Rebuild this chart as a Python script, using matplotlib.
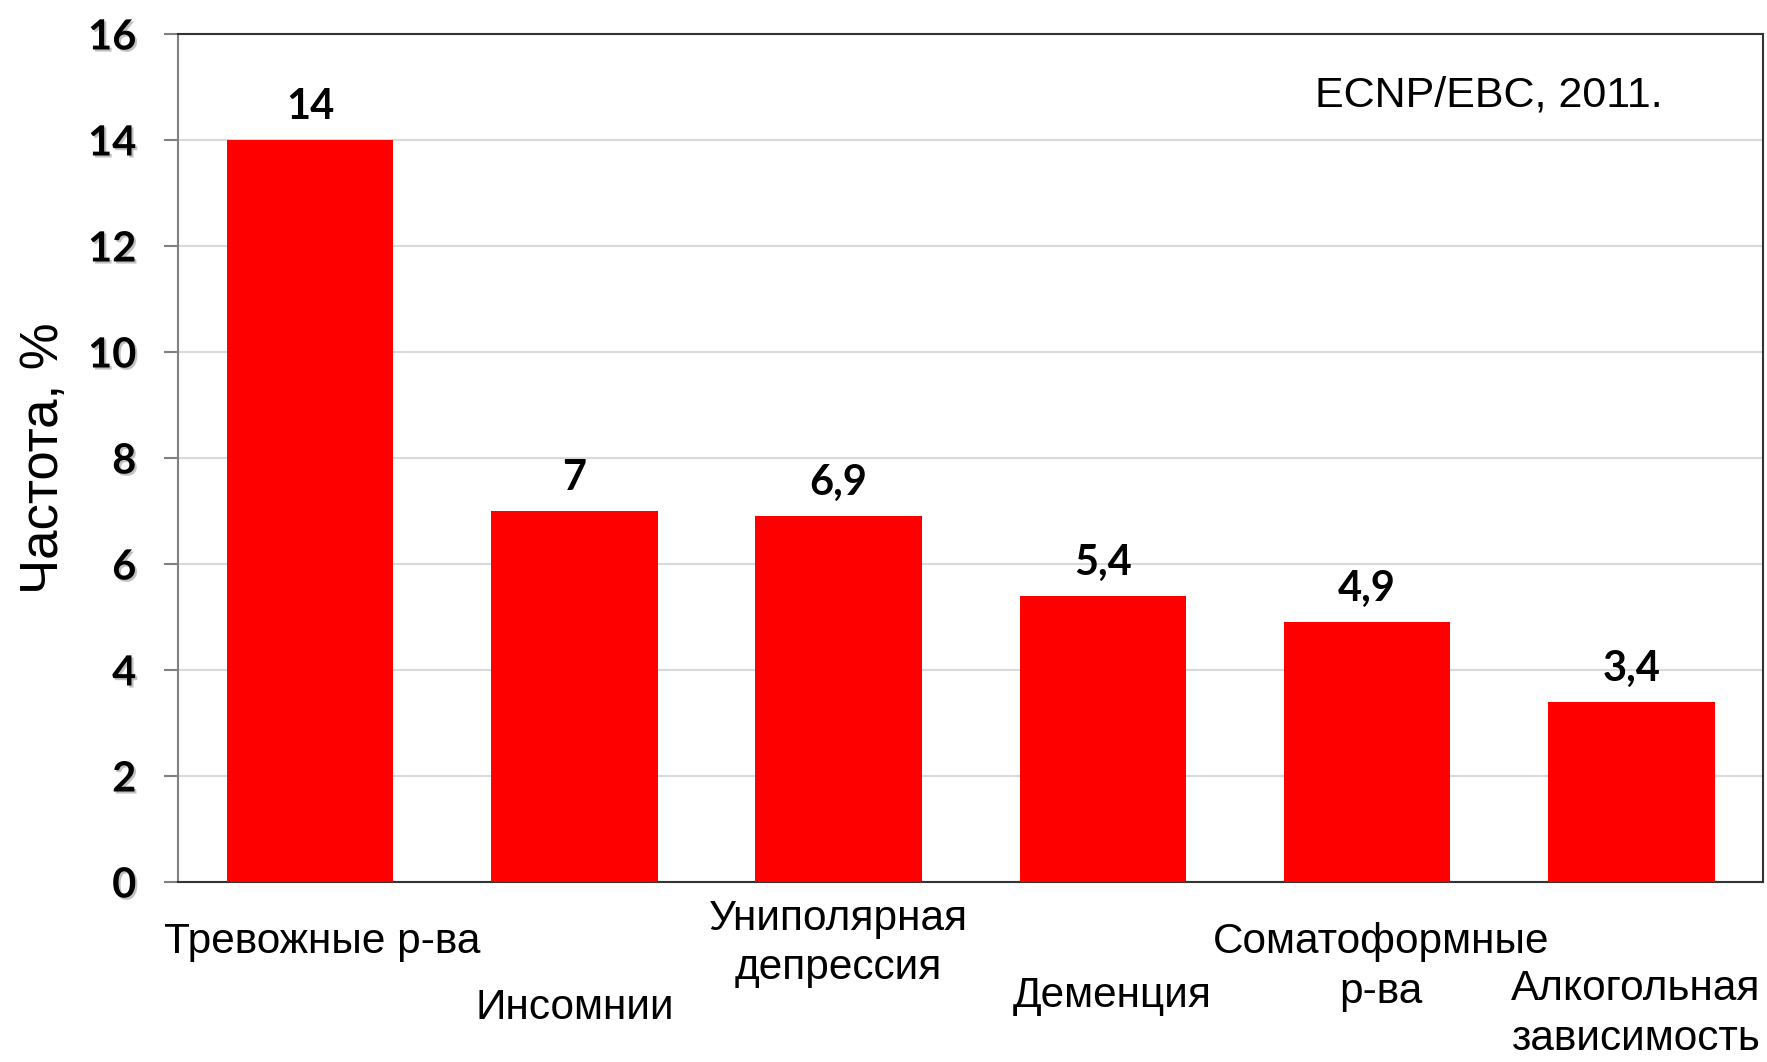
import matplotlib
matplotlib.use("Agg")
import matplotlib.pyplot as plt
import matplotlib.patheffects as pe

categories = ["Тревожные р-ва", "Инсомнии", "Униполярная\nдепрессия",
              "Деменция", "Соматоформные\nр-ва", "Алкогольная\nзависимость"]
values = [14, 7, 6.9, 5.4, 4.9, 3.4]
value_labels = ["14", "7", "6,9", "5,4", "4,9", "3,4"]
yticks = [0, 2, 4, 6, 8, 10, 12, 14, 16]
ylabel = "Частота, %"
source = "ECNP/EBC, 2011."

# layout: offsets (points) of each category label from the bar base
label_dx = [9, 0, 0, 6.5, 10, 3]
label_dy = [-29, -76, -12, -68, -29, -63]

fig = plt.figure(figsize=(17.67, 10.62), dpi=100)
ax = fig.add_axes([0.1007, 0.1695, 0.8973, 0.7985])

x = list(range(len(categories)))
ax.bar(x, values, width=0.63, color="#ff0000", zorder=3)
ax.set_xlim(-0.5, len(categories) - 0.5)
ax.set_ylim(0, 16)
ax.set_yticks(yticks)
ax.set_yticklabels([str(t) for t in yticks], fontfamily="Lato", fontweight="bold",
                   fontsize=30,
                   path_effects=[pe.withSimplePatchShadow(offset=(1.5, -1.5),
                                                          shadow_rgbFace="#999999", alpha=0.6)])
ax.tick_params(axis="y", length=10, width=1.5, color="#808080", pad=20)
ax.set_xticks([])
ax.grid(axis="y", color="#d9d9d9", linewidth=1.5, zorder=0)
ax.set_axisbelow(True)

for side in ["top", "right", "bottom"]:
    ax.spines[side].set_color("#333333")
    ax.spines[side].set_linewidth(1.5)
ax.spines["left"].set_color("#808080")
ax.spines["left"].set_linewidth(1.5)

ax.set_ylabel(ylabel, fontfamily="Liberation Sans", fontsize=38, labelpad=14)

for xi, v, lab in zip(x, values, value_labels):
    ax.annotate(lab, xy=(xi, v), xytext=(0, 10), textcoords="offset points",
                ha="center", va="bottom", fontfamily="Lato", fontweight="bold",
                fontsize=30)

for xi, cat, dx, dy in zip(x, categories, label_dx, label_dy):
    ax.annotate(cat, xy=(xi, 0), xytext=(dx, dy), textcoords="offset points",
                ha="center", va="top", fontfamily="Liberation Sans",
                fontsize=30.5, linespacing=1.3, annotation_clip=False)

ax.text(0.827, 0.927, source, transform=ax.transAxes, ha="center", va="center",
        fontfamily="Liberation Sans", fontsize=31)

fig.savefig("out.png", dpi=100)
